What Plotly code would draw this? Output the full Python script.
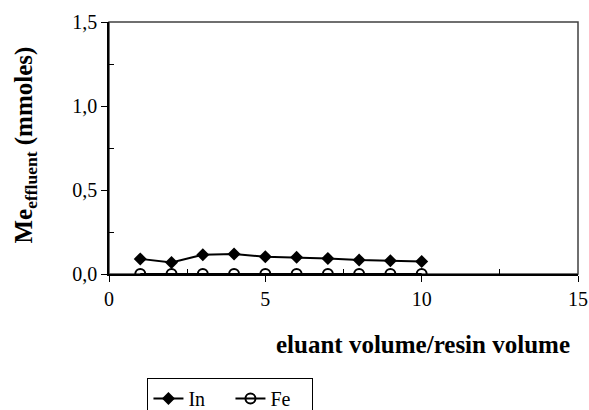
import plotly.graph_objects as go

x_vals = [1, 2, 3, 4, 5, 6, 7, 8, 9, 10]
in_vals = [0.090, 0.068, 0.115, 0.119, 0.103, 0.099, 0.093, 0.083, 0.079, 0.074]
fe_vals = [0, 0, 0, 0, 0, 0, 0, 0, 0, 0]
y_tickvals = [0, 0.5, 1.0, 1.5]
y_ticktext = ["0,0", "0,5", "1,0", "1,5"]
x_tickvals = [0, 5, 10, 15]

FONT = "Liberation Serif"

fig = go.Figure()
fig.add_trace(go.Scatter(x=x_vals, y=in_vals, name="In", mode="lines+markers",
                         line=dict(color="black", width=2),
                         marker=dict(symbol="diamond", size=10, color="black")))
fig.add_trace(go.Scatter(x=x_vals, y=fe_vals, name="Fe", mode="lines+markers",
                         line=dict(color="black", width=2),
                         marker=dict(symbol="circle-open", size=10, color="black",
                                     line=dict(width=2, color="black"))))

fig.update_layout(
    width=589, height=410,
    margin=dict(l=109, r=11, t=22, b=136, autoexpand=False),
    paper_bgcolor="white", plot_bgcolor="white",
    font=dict(family=FONT, size=20, color="black"),
    showlegend=True,
    legend=dict(orientation="h", x=0.082, y=-0.413, xanchor="left", yanchor="top",
                bordercolor="black", borderwidth=1, bgcolor="white",
                font=dict(size=20, family=FONT, color="black"), itemwidth=30,
                entrywidth=37, entrywidthmode="pixels",
                tracegroupgap=0),
    xaxis=dict(range=[0, 15], tickvals=x_tickvals, ticks="outside", ticklen=6,
               tickcolor="black", showline=True, linecolor="black", linewidth=1.5,
               showgrid=False, zeroline=False, automargin=False,
               tickfont=dict(size=20, family=FONT, color="black"),
               minor=dict(tickvals=[2.5, 7.5, 12.5], ticks="inside", ticklen=5,
                          tickcolor="black", showgrid=False)),
    yaxis=dict(range=[0, 1.5], tickvals=y_tickvals, ticktext=y_ticktext,
               ticks="outside", ticklen=6, tickcolor="black",
               showline=True, linecolor="black", linewidth=1.5,
               showgrid=False, zeroline=False, automargin=False,
               tickfont=dict(size=20, family=FONT, color="black"),
               minor=dict(tickvals=[0.25, 0.75, 1.25], ticks="inside", ticklen=5,
                          tickcolor="black", showgrid=False)),
    shapes=[dict(type="rect", xref="paper", yref="paper", x0=0, x1=1, y0=0, y1=1,
                 line=dict(color="#404040", width=1.5), layer="below")],
    annotations=[
        dict(text="<b>eluant volume/resin volume</b>", xref="paper", yref="paper",
             x=0.6695, y=-0.278, xanchor="center", yanchor="middle", showarrow=False,
             font=dict(size=25, family=FONT, color="black")),
        dict(text="<b>Me<sub>effluent</sub> (mmoles)</b>", xref="paper", yref="paper",
             x=-0.179, y=0.51, xanchor="center", yanchor="middle", showarrow=False,
             textangle=-90, font=dict(size=25, family=FONT, color="black")),
    ],
)

fig.write_html("out.html")
